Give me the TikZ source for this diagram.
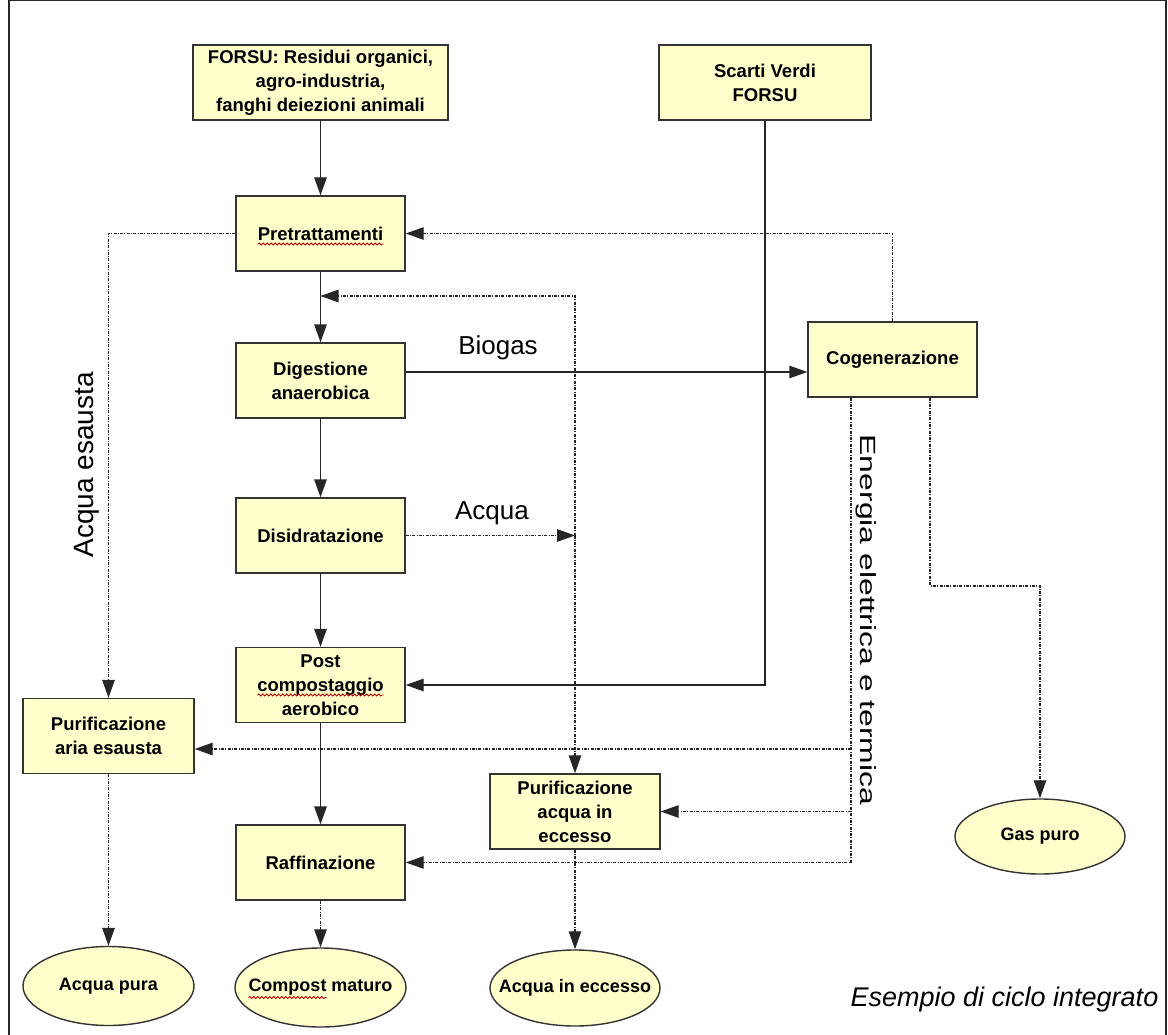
\documentclass[tikz,border=0pt]{standalone}
\usepackage{fontspec}
\setmainfont{Liberation Sans}
\usetikzlibrary{arrows.meta,shapes.geometric,calc,decorations.pathmorphing}
\definecolor{boxfill}{HTML}{FFFFCC}
\definecolor{boxline}{HTML}{333333}
\begin{document}
\begin{tikzpicture}[x=1pt,y=-1pt,
  box/.style={draw=boxline, line width=1.4pt, fill=boxfill, rectangle,
    minimum width=169pt, minimum height=75pt, inner sep=2pt, align=center,
    font=\fontsize{18.5}{24}\selectfont\bfseries},
  oval/.style={draw=boxline, line width=1.4pt, fill=boxfill, ellipse,
    minimum width=171pt, minimum height=79pt, inner sep=0pt,
    font=\fontsize{18}{24}\selectfont\bfseries},
  flow/.style={line width=1.4pt, draw=black!85, -{Triangle[length=18pt,width=12.5pt]}},
  aux/.style={line width=1.2pt, draw=black!85, dash pattern=on 3pt off 1.3pt on 1pt off 1.3pt,
    -{Triangle[length=18pt,width=12.5pt]}},
  wavy/.style={draw=red!75!black, line width=0.8pt, decorate,
    decoration={snake, segment length=4pt, amplitude=1.1pt}},
  lbl/.style={font=\fontsize{26}{26}\selectfont, inner sep=0pt}
]
\useasboundingbox (0,0) rectangle (1168,1035);
\fill[white] (0,0) rectangle (1168,1035);
\draw[line width=1.5pt, draw=black!85] (9,1035) -- (9,0.75) -- (1166,0.75) -- (1166,1035);

% boxes
\node[box, minimum width=255pt] (forsu) at (320.5,82.5) {FORSU: Residui organici,\\agro-industria,\\fanghi deiezioni animali};
\node[box, minimum width=212pt] (scarti) at (765,82.5) {Scarti Verdi\\FORSU};
\node[box] (pre) at (320.5,233.5) {Pretrattamenti};
\node[box] (dig) at (320.5,380.5) {Digestione\\anaerobica};
\node[box] (dis) at (320.5,535.5) {Disidratazione};
\node[box] (post) at (320.5,685) {Post\\compostaggio\\aerobico};
\node[box] (cog) at (892.5,359.5) {Cogenerazione};
\node[box, minimum width=171pt] (paria) at (108.5,736) {Purificazione\\aria esausta};
\node[box, minimum width=170pt] (pacq) at (575,811.5) {Purificazione\\acqua in\\eccesso};
\node[box] (raf) at (320.5,862.5) {Raffinazione};

% outputs
\node[oval] (apura) at (108.5,986) {\makebox[0pt]{Acqua pura}};
\node[oval] (comp) at (320.5,987.5) {\makebox[0pt]{Compost maturo}};
\node[oval, minimum width=170pt, minimum height=76pt] (aecc) at (575,988) {\makebox[0pt]{Acqua in eccesso}};
\node[oval, minimum width=170pt, minimum height=75pt] (gas) at (1040,836.5) {\makebox[0pt]{Gas puro}};

% spell-check underlines
\draw[wavy] ($(pre)+(-62.5,10.5)$) -- ($(pre)+(62.5,10.5)$);
\draw[wavy] ($(post)+(-63,10)$) -- ($(post)+(63,10)$);
\draw[wavy] ($(comp)+(-72,10)$) -- ($(comp)+(6,10)$);

% helper coordinates
\coordinate (bg) at (0,372);
\coordinate (rec) at (320.5,296);
\coordinate (jtop) at (575,296);
\coordinate (eTop) at (851,397.5);
\coordinate (gTop) at (930,397.5);
\coordinate (gK) at (930,586);
\coordinate (ay) at (0,749);

% main solid flow
\draw[flow] (forsu) -- (pre);
\draw[flow] (pre) -- (dig);
\draw[flow] (dig) -- (dis);
\draw[flow] (dis) -- (post);
\draw[flow] (post) -- (raf);
\draw[flow] (dig.east |- bg) -- (cog.west |- bg);
\draw[flow] (scarti.south) |- (post.east);

% dotted flows
\draw[aux] (pre.west) -| (paria.north);
\draw[aux] (cog.north) |- (pre.east);
\draw[aux] (dis.east) -- (dis.east -| jtop);
\draw[aux] (dis.east -| jtop) -- (jtop) -- (rec);
\draw[aux] (dis.east -| jtop) -- (pacq.north);
\draw[aux] (eTop) |- (raf.east);
\draw[aux] (eTop |- ay) -- (paria.east |- ay);
\draw[aux] (eTop |- pacq.east) -- (pacq.east);
\draw[aux] (gTop) -- (gK) -| (gas.north);
\draw[aux] (paria) -- (apura);
\draw[aux] (raf) -- (comp);
\draw[aux] (pacq) -- (aecc);

% labels
\node[lbl] (tbiogas) at (498,348) {Biogas};
\node[lbl] (tacqua) at (492,513) {Acqua};
\node[lbl, font=\fontsize{28}{28}\selectfont, rotate=90] (tesausta) at (87,465) {Acqua esausta};
\node[inner sep=0pt, rotate=-90] (tenergia) at (866,620) {\scalebox{1.45}[1]{\fontsize{22}{22}\selectfont Energia elettrica e termica}};
\node[inner sep=0pt, font=\fontsize{27}{27}\selectfont\itshape] (ttitle) at (1004.5,1000) {Esempio di ciclo integrato};
\end{tikzpicture}
\end{document}
